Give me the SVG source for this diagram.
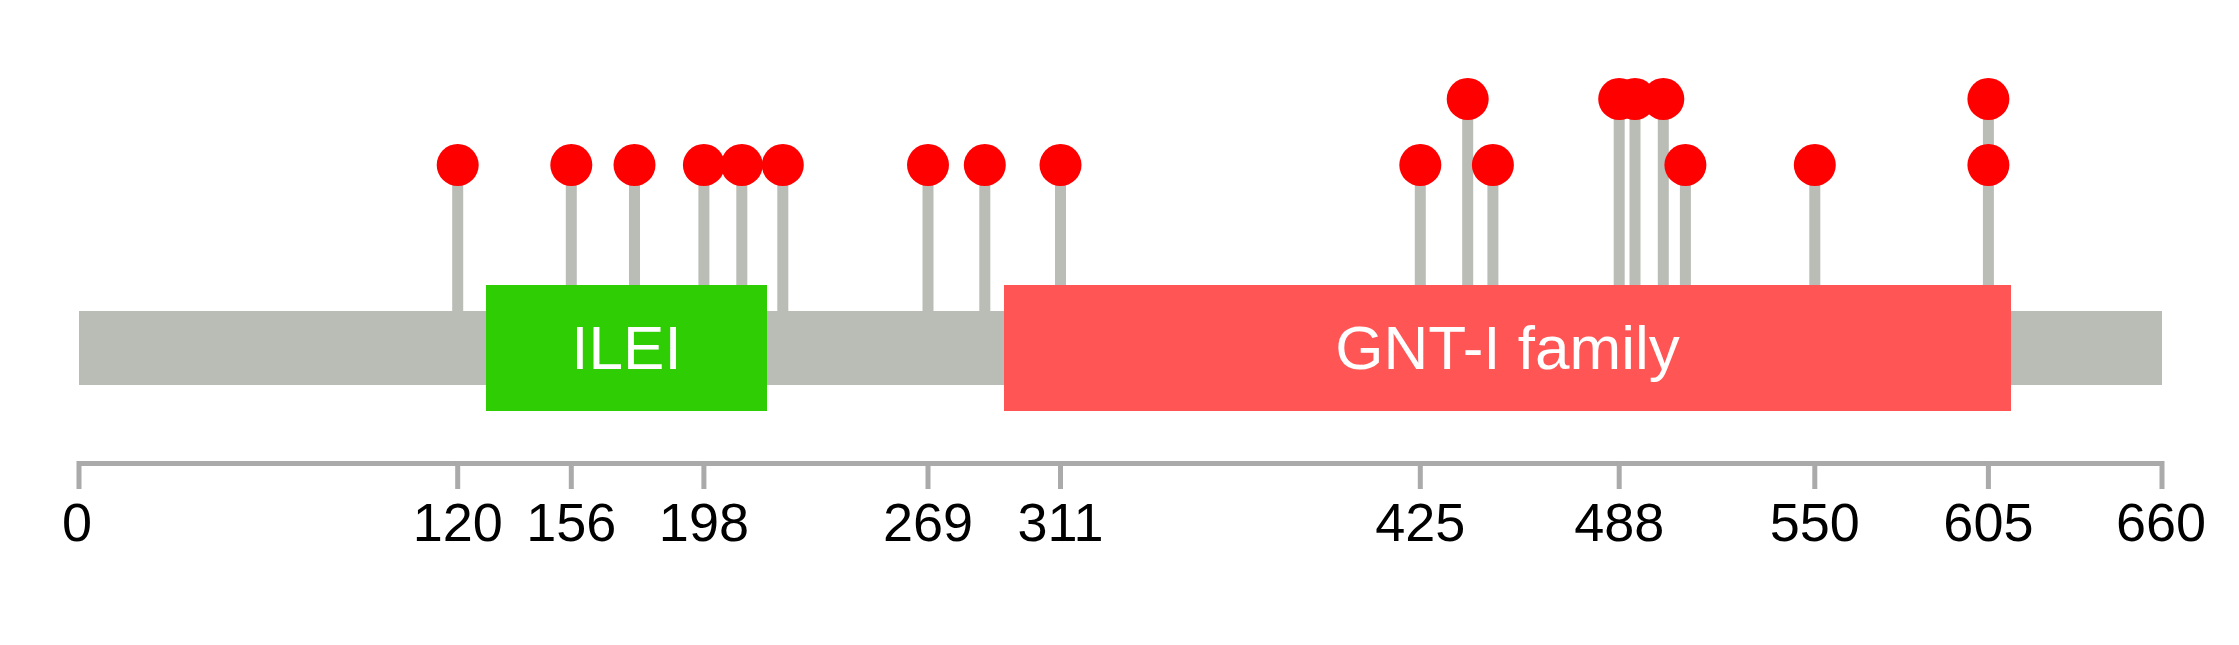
<svg xmlns="http://www.w3.org/2000/svg" width="2239" height="645" viewBox="0 0 2239 645">
<style>
.stem{stroke:#BABDB6;stroke-width:11;fill:none}
.dot{fill:#FF0000}
.axis{stroke:#AAAAAA;stroke-width:5;fill:none}
.tick{font-family:"Liberation Sans",Arial,sans-serif;font-size:54px;fill:#000000;text-anchor:middle}
.dlab{font-family:"Liberation Sans",Arial,sans-serif;font-size:62px;fill:#FFFFFF;text-anchor:middle}
</style>
<rect width="2239" height="645" fill="#FFFFFF"/>
<g id="connectors">
<line class="stem" x1="457.7" y1="165" x2="457.7" y2="311"/>
<line class="stem" x1="571.3" y1="165" x2="571.3" y2="311"/>
<line class="stem" x1="634.5" y1="165" x2="634.5" y2="311"/>
<line class="stem" x1="703.9" y1="165" x2="703.9" y2="311"/>
<line class="stem" x1="741.8" y1="165" x2="741.8" y2="311"/>
<line class="stem" x1="782.8" y1="165" x2="782.8" y2="311"/>
<line class="stem" x1="928.0" y1="165" x2="928.0" y2="311"/>
<line class="stem" x1="984.8" y1="165" x2="984.8" y2="311"/>
<line class="stem" x1="1060.5" y1="165" x2="1060.5" y2="311"/>
<line class="stem" x1="1420.3" y1="165" x2="1420.3" y2="311"/>
<line class="stem" x1="1467.7" y1="99" x2="1467.7" y2="311"/>
<line class="stem" x1="1492.9" y1="165" x2="1492.9" y2="311"/>
<line class="stem" x1="1619.2" y1="99" x2="1619.2" y2="311"/>
<line class="stem" x1="1635.0" y1="99" x2="1635.0" y2="311"/>
<line class="stem" x1="1663.3" y1="99" x2="1663.3" y2="311"/>
<line class="stem" x1="1685.4" y1="165" x2="1685.4" y2="311"/>
<line class="stem" x1="1814.8" y1="165" x2="1814.8" y2="311"/>
<line class="stem" x1="1988.4" y1="99" x2="1988.4" y2="311"/>
</g>
<g id="backbone">
<rect x="79" y="311" width="2083" height="74" fill="#BABDB6"/>
</g>
<g id="domain-ILEI">
<rect x="486" y="285" width="281" height="126" fill="#2ECD04"/>
<text class="dlab" x="626.5" y="369">ILEI</text>
</g>
<g id="domain-GNT-I">
<rect x="1004" y="285" width="1007" height="126" fill="#FF5555"/>
<text class="dlab" x="1507.5" y="369">GNT-I family</text>
</g>
<g id="sites">
<circle class="dot" cx="457.7" cy="165" r="21"/>
<circle class="dot" cx="571.3" cy="165" r="21"/>
<circle class="dot" cx="634.5" cy="165" r="21"/>
<circle class="dot" cx="703.9" cy="165" r="21"/>
<circle class="dot" cx="741.8" cy="165" r="21"/>
<circle class="dot" cx="782.8" cy="165" r="21"/>
<circle class="dot" cx="928.0" cy="165" r="21"/>
<circle class="dot" cx="984.8" cy="165" r="21"/>
<circle class="dot" cx="1060.5" cy="165" r="21"/>
<circle class="dot" cx="1420.3" cy="165" r="21"/>
<circle class="dot" cx="1467.7" cy="99" r="21"/>
<circle class="dot" cx="1492.9" cy="165" r="21"/>
<circle class="dot" cx="1619.2" cy="99" r="21"/>
<circle class="dot" cx="1635.0" cy="99" r="21"/>
<circle class="dot" cx="1663.3" cy="99" r="21"/>
<circle class="dot" cx="1685.4" cy="165" r="21"/>
<circle class="dot" cx="1814.8" cy="165" r="21"/>
<circle class="dot" cx="1988.4" cy="99" r="21"/>
<circle class="dot" cx="1988.4" cy="165" r="21"/>
</g>
<g id="axis">
<line class="axis" x1="79" y1="463.5" x2="2162" y2="463.5"/>
<path class="axis" d="M79,461V489M457.7,461V489M571.3,461V489M703.9,461V489M928,461V489M1060.5,461V489M1420.3,461V489M1619.2,461V489M1814.8,461V489M1988.4,461V489M2162,461V489"/>
<text class="tick" x="77" y="541">0</text>
<text class="tick" x="457.7" y="541">120</text>
<text class="tick" x="571.3" y="541">156</text>
<text class="tick" x="703.9" y="541">198</text>
<text class="tick" x="928" y="541">269</text>
<text class="tick" x="1060.5" y="541">311</text>
<text class="tick" x="1420.3" y="541">425</text>
<text class="tick" x="1619.2" y="541">488</text>
<text class="tick" x="1814.8" y="541">550</text>
<text class="tick" x="1988.4" y="541">605</text>
<text class="tick" x="2161" y="541">660</text>
</g>
</svg>
